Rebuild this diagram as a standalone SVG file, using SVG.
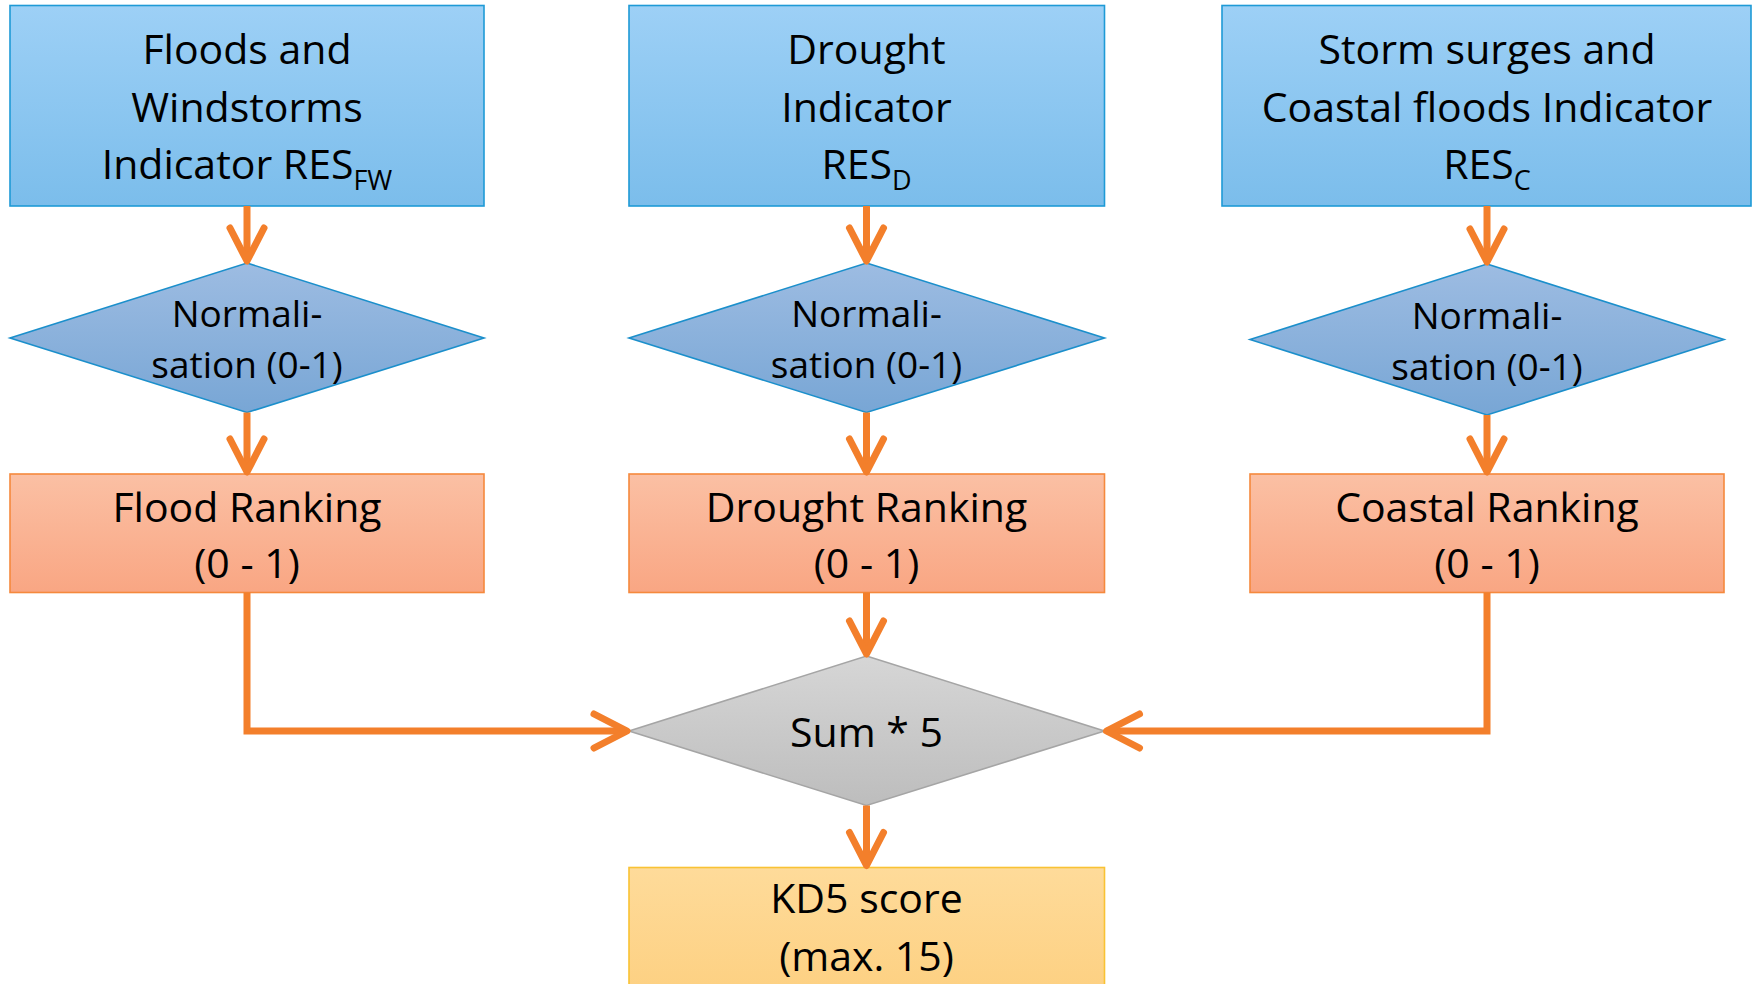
<svg xmlns="http://www.w3.org/2000/svg" width="1753" height="984" viewBox="0 0 1753 984">
<defs>
<linearGradient id="gBlue" x1="0" y1="0" x2="0" y2="1"><stop offset="0" stop-color="#9DD0F6"/><stop offset="1" stop-color="#7BBDEB"/></linearGradient>
<linearGradient id="gDia" x1="0" y1="0" x2="0" y2="1"><stop offset="0" stop-color="#9DBCE2"/><stop offset="1" stop-color="#78A6D5"/></linearGradient>
<linearGradient id="gRank" x1="0" y1="0" x2="0" y2="1"><stop offset="0" stop-color="#FBC0A4"/><stop offset="1" stop-color="#F9A683"/></linearGradient>
<linearGradient id="gGrey" x1="0" y1="0" x2="0" y2="1"><stop offset="0" stop-color="#D6D6D6"/><stop offset="1" stop-color="#BDBDBD"/></linearGradient>
<linearGradient id="gGold" x1="0" y1="0" x2="0" y2="1"><stop offset="0" stop-color="#FEDB9A"/><stop offset="1" stop-color="#FDD081"/></linearGradient>
<marker id="arr" markerUnits="userSpaceOnUse" markerWidth="50" markerHeight="50" refX="40" refY="25" orient="auto" overflow="visible">
<path d="M7,8 L40,25 L7,42" fill="none" stroke="#F37F2B" stroke-width="7" stroke-linecap="round" stroke-linejoin="round"/>
</marker>
<style>
.box{stroke-width:1.6}
.blue{fill:url(#gBlue);stroke:#1E9AD6}
.dia{fill:url(#gDia);stroke:#1B8FCB}
.rank{fill:url(#gRank);stroke:#F5893D}
.grey{fill:url(#gGrey);stroke:#A5A5A5}
.gold{fill:url(#gGold);stroke:#F9C234}
text{font-family:"Open Sans","Noto Sans","Liberation Sans",sans-serif;fill:#000;text-anchor:middle}
.t{font-size:41px}
.d{font-size:37px}
.sub{font-size:27px}
.con{fill:none;stroke:#F37F2B;stroke-width:7;stroke-linejoin:miter;marker-end:url(#arr)}
</style>
</defs>
<rect width="1753" height="984" fill="#FFFFFF"/>
<g id="box-fw">
<rect class="box blue" x="10" y="5.5" width="474" height="200.5"/>
<text class="t" x="247" y="64">Floods and</text>
<text class="t" x="247" y="122">Windstorms</text>
<text class="t" x="247" y="179">Indicator RES<tspan class="sub" dy="11">FW</tspan></text>
</g>
<g id="box-d">
<rect class="box blue" x="629" y="5.5" width="475.5" height="200.5"/>
<text class="t" x="866.5" y="64">Drought</text>
<text class="t" x="866.5" y="122">Indicator</text>
<text class="t" x="866.5" y="179">RES<tspan class="sub" dy="11">D</tspan></text>
</g>
<g id="box-c">
<rect class="box blue" x="1222" y="5.5" width="529" height="200.5"/>
<text class="t" x="1487" y="64">Storm surges and</text>
<text class="t" x="1487" y="122">Coastal floods Indicator</text>
<text class="t" x="1487" y="179">RES<tspan class="sub" dy="11">C</tspan></text>
</g>
<g id="norm-fw">
<polygon class="box dia" points="247,263 484,338 247,412.5 10,338"/>
<text class="d" x="247" y="327">Normali-</text>
<text class="d" x="247" y="378">sation (0-1)</text>
</g>
<g id="norm-d">
<polygon class="box dia" points="866.5,263 1104.5,338 866.5,412.5 629,338"/>
<text class="d" x="866.5" y="327">Normali-</text>
<text class="d" x="866.5" y="378">sation (0-1)</text>
</g>
<g id="norm-c">
<polygon class="box dia" points="1487,264 1724,339.5 1487,415 1250,339.5"/>
<text class="d" x="1487" y="329">Normali-</text>
<text class="d" x="1487" y="380">sation (0-1)</text>
</g>
<g id="rank-fw">
<rect class="box rank" x="10" y="474" width="474" height="118.5"/>
<text class="t" x="247" y="522">Flood Ranking</text>
<text class="t" x="247" y="578">(0 - 1)</text>
</g>
<g id="rank-d">
<rect class="box rank" x="629" y="474" width="475.5" height="118.5"/>
<text class="t" x="866.5" y="522">Drought Ranking</text>
<text class="t" x="866.5" y="578">(0 - 1)</text>
</g>
<g id="rank-c">
<rect class="box rank" x="1250" y="474" width="474" height="118.5"/>
<text class="t" x="1487" y="522">Coastal Ranking</text>
<text class="t" x="1487" y="578">(0 - 1)</text>
</g>
<g id="sum">
<polygon class="box grey" points="866.5,656 1104.5,731 866.5,805.5 629,731"/>
<text class="t" x="866.5" y="747">Sum * 5</text>
</g>
<g id="kd5">
<rect class="box gold" x="629" y="867.5" width="475.5" height="130"/>
<text class="t" x="866.5" y="913">KD5 score</text>
<text class="t" x="866.5" y="971">(max. 15)</text>
</g>
<g id="connectors">
<path class="con" d="M247,206 L247,261"/>
<path class="con" d="M866.5,206 L866.5,261"/>
<path class="con" d="M1487,206 L1487,262"/>
<path class="con" d="M247,412.5 L247,472"/>
<path class="con" d="M866.5,412.5 L866.5,472"/>
<path class="con" d="M1487,415 L1487,472"/>
<path class="con" d="M247,592.5 L247,731 L627,731"/>
<path class="con" d="M866.5,592.5 L866.5,654"/>
<path class="con" d="M1487,592.5 L1487,731 L1106.5,731"/>
<path class="con" d="M866.5,805.5 L866.5,865.5"/>
</g>
</svg>
